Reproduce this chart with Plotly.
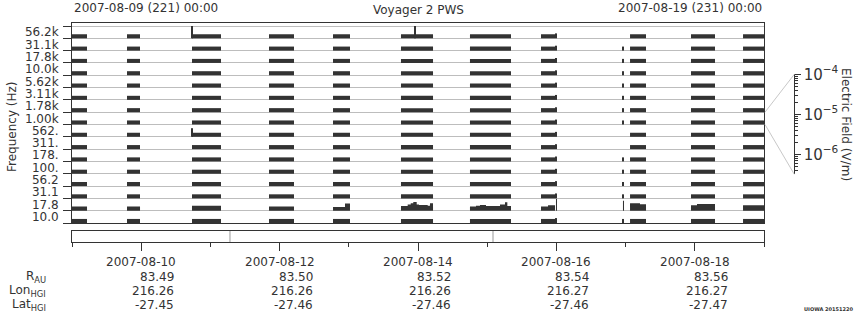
import plotly.graph_objects as go
import pandas as pd

# ---------------- data ----------------
start_date = pd.Timestamp("2007-08-09")
doy0 = 221.0
doy1 = 231.0

channel_labels = ["56.2k", "31.1k", "17.8k", "10.0k", "5.62k", "3.11k", "1.78k", "1.00k",
                  "562.", "311.", "178.", "100.", "56.2", "31.1", "17.8", "10.0"]

# observation intervals (day of year) where spectrum data exist
obs_start = [221.000, 221.795, 222.734, 223.847, 224.772, 225.754, 226.751, 227.777, 229.064, 229.945, 230.697]
obs_end   = [221.217, 221.983, 223.153, 224.208, 225.017, 226.217, 227.344, 227.980, 229.295, 230.292, 231.000]

# typical level (fraction of channel strip) for each channel
channel_level = [0.33, 0.33, 0.33, 0.33, 0.33, 0.33, 0.33, 0.33,
                 0.33, 0.33, 0.33, 0.33, 0.33, 0.33, None, 0.33]

# isolated single samples: (doy start, doy end, level) and channels that have them
sample_a = (227.994, 228.009, 0.40)
sample_a_channels = list(range(16))
sample_b = (228.962, 228.977, 0.33)
sample_b_channels = [1, 2, 3, 4, 5, 6, 7, 10, 11, 12, 13, 15]

# detailed profile of the 17.8 Hz channel: (start, end, level)
ch17_segments = [
    (221.000, 221.217, 0.33), (221.795, 221.983, 0.33), (222.734, 223.153, 0.40),
    (223.847, 224.208, 0.33), (224.772, 224.945, 0.30), (224.945, 225.017, 0.58),
    (225.754, 225.851, 0.38), (225.851, 225.895, 0.51), (225.895, 225.932, 0.60),
    (225.932, 225.981, 0.70), (225.981, 226.014, 0.51), (226.014, 226.140, 0.46),
    (226.140, 226.173, 0.41), (226.173, 226.217, 0.60),
    (226.751, 226.838, 0.33), (226.838, 226.896, 0.41), (226.896, 226.983, 0.46),
    (226.983, 227.185, 0.38), (227.185, 227.257, 0.51), (227.257, 227.291, 0.68),
    (227.291, 227.344, 0.38),
    (227.777, 227.879, 0.33), (227.879, 227.980, 0.45),
    (227.994, 228.009, 0.95), (228.962, 228.977, 0.80),
    (229.064, 229.208, 0.60), (229.208, 229.295, 0.52),
    (229.945, 230.032, 0.45), (230.032, 230.292, 0.54),
    (230.697, 231.000, 0.45),
]
ch17_index = 14

# narrow spikes: (doy start, doy end, channel, level)
spikes = [(222.734, 222.749, 0, 1.0), (225.950, 225.965, 0, 1.0), (222.734, 222.749, 8, 0.70)]

# event markers in the lower strip (doy)
event_doy = [223.283, 227.084]

# ephemeris table
tick_dates = ["2007-08-10", "2007-08-12", "2007-08-14", "2007-08-16", "2007-08-18"]
r_au = ["83.49", "83.50", "83.52", "83.54", "83.56"]
lon_hgi = ["216.26", "216.26", "216.26", "216.27", "216.27"]
lat_hgi = ["-27.45", "-27.46", "-27.46", "-27.46", "-27.47"]

# electric field color-scale axis (log10 V/m)
efield_range = [-6.5, -4.0]

# ---------------- layout helpers ----------------
W, H = 860, 320
def px2x(px):
    return px / W
def px2y(px):
    return 1 - px / H

DARK = "#333333"
GRAY = "#bdbdbd"
FONT = "DejaVu Sans"

main_x = [px2x(72), px2x(764)]
main_y = [px2y(223), px2y(23)]
n_ch = len(channel_labels)
y_top = n_ch + 0.244
strip_y = [px2y(242), px2y(231)]
cb_y = [px2y(174.3), px2y(74.3)]
cb_x = [0.90, px2x(794.3)]

# ---------------- build bars ----------------
xs, ws, bs, hs = [], [], [], []
def add(s, e, ch, lev):
    xs.append((s + e) / 2)
    ws.append(e - s)
    bs.append(n_ch - 1 - ch)
    hs.append(lev)

for ch in range(n_ch):
    if ch == ch17_index:
        continue
    for s, e in zip(obs_start, obs_end):
        add(s, e, ch, channel_level[ch])
    if ch in sample_a_channels:
        add(sample_a[0], sample_a[1], ch, sample_a[2])
    if ch in sample_b_channels:
        add(sample_b[0], sample_b[1], ch, sample_b[2])
for s, e, ch, lev in spikes:
    add(s, e, ch, lev)

# 17.8 Hz channel as stepped filled profile (contiguous runs merged)
base17 = n_ch - 1 - ch17_index
px_, py_ = [], []
run = []
def flush(run):
    if not run:
        return
    px_.append(run[0][0]); py_.append(base17)
    for s, e, lev in run:
        px_.extend([s, e]); py_.extend([base17 + lev, base17 + lev])
    px_.append(run[-1][1]); py_.append(base17)
    px_.append(None); py_.append(None)
for seg in ch17_segments:
    if run and abs(seg[0] - run[-1][1]) > 1e-6:
        flush(run)
        run = []
    run.append(seg)
flush(run)

fig = go.Figure()
fig.add_trace(go.Bar(x=xs, y=hs, base=bs, width=ws, marker=dict(color=DARK, line=dict(width=0)),
                     hoverinfo="skip", showlegend=False, xaxis="x", yaxis="y"))
fig.add_trace(go.Scatter(x=px_, y=py_, mode="lines", fill="toself", fillcolor=DARK,
                         line=dict(width=0, color=DARK), connectgaps=False,
                         hoverinfo="skip", showlegend=False, xaxis="x", yaxis="y"))
fig.add_trace(go.Scatter(x=[doy0], y=[0.5], mode="markers", marker=dict(opacity=0),
                         hoverinfo="skip", showlegend=False, xaxis="x2", yaxis="y2"))
fig.add_trace(go.Scatter(x=[0], y=[1e-5], mode="markers", marker=dict(opacity=0),
                         hoverinfo="skip", showlegend=False, xaxis="x3", yaxis="y3"))

tick_doy = [doy0 + (pd.Timestamp(d) - start_date).days for d in tick_dates]

fig.update_layout(
    template="none",
    width=W, height=H, margin=dict(l=0, r=0, t=0, b=0, pad=0, autoexpand=False),
    paper_bgcolor="white", plot_bgcolor="white",
    font=dict(family=FONT, size=12, color=DARK),
    barmode="overlay", showlegend=False,
    xaxis=dict(domain=main_x, range=[doy0, doy1], anchor="y", showline=True, mirror=True,
               linecolor=DARK, linewidth=1, ticks="", showticklabels=False, showgrid=False,
               zeroline=False, automargin=False),
    yaxis=dict(domain=main_y, range=[0, y_top], anchor="x", tickmode="array",
               tickvals=[n_ch - 1 - j + 0.5 for j in range(n_ch)], ticktext=channel_labels,
               ticks="outside", ticklen=10, tickcolor="rgba(0,0,0,0)",
               showgrid=False, zeroline=False, showline=True, mirror=True,
               linecolor=DARK, linewidth=1, automargin=False,
               tickfont=dict(size=12, color=DARK),
               minor=dict(tickmode="linear", tick0=0, dtick=1, ticks="outside", ticklen=8,
                          tickcolor=DARK, tickwidth=1, showgrid=True, gridcolor=GRAY, gridwidth=1)),
    xaxis2=dict(domain=main_x, range=[doy0, doy1], anchor="y2", showline=True, mirror=True,
                linecolor=DARK, linewidth=1, tickmode="array", tickvals=tick_doy, ticks="outside",
                ticklen=8, tickcolor=DARK, tickwidth=1, showticklabels=False, showgrid=False,
                zeroline=False, automargin=False,
                minor=dict(tickmode="linear", tick0=doy0, dtick=1, ticks="outside", ticklen=4,
                           tickcolor=DARK, tickwidth=1, showgrid=False)),
    yaxis2=dict(domain=strip_y, range=[0, 1], anchor="x2", showline=True, mirror=True,
                linecolor=DARK, linewidth=1, ticks="", showticklabels=False, showgrid=False,
                zeroline=False, automargin=False),
    xaxis3=dict(domain=cb_x, anchor="y3", visible=False, range=[-1, 1], automargin=False),
    yaxis3=dict(domain=cb_y, anchor="x3", side="right", type="log", range=efield_range,
                showline=True, linecolor=DARK, linewidth=1, ticks="outside", ticklen=6,
                tickcolor=DARK, dtick=1, exponentformat="power", showexponent="all",
                showgrid=False, zeroline=False, tickfont=dict(size=12, color=DARK),
                automargin=False,
                minor=dict(ticks="outside", ticklen=3, tickcolor=DARK, showgrid=False)),
)

ann = []
ann.append(dict(text="2007-08-09 (221) 00:00", x=px2x(72), y=px2y(8), xref="paper", yref="paper",
                xanchor="left", yanchor="middle", showarrow=False, font=dict(size=12, color=DARK)))
ann.append(dict(text="Voyager 2 PWS", x=(main_x[0] + main_x[1]) / 2, y=px2y(10), xref="paper",
                yref="paper", xanchor="center", yanchor="middle", showarrow=False,
                font=dict(size=12, color=DARK)))
ann.append(dict(text="2007-08-19 (231) 00:00", x=px2x(764), y=px2y(8), xref="paper", yref="paper",
                xanchor="right", yanchor="middle", showarrow=False, font=dict(size=12, color=DARK)))
ann.append(dict(text="Frequency (Hz)", x=px2x(12), y=px2y(127), xref="paper", yref="paper",
                xanchor="center", yanchor="middle", textangle=-90, showarrow=False,
                font=dict(size=12, color=DARK)))
ann.append(dict(text="Electric Field (V/m)", x=px2x(846), y=px2y(124), xref="paper", yref="paper",
                xanchor="center", yanchor="middle", textangle=90, showarrow=False,
                font=dict(size=12, color=DARK)))
ann.append(dict(text="<b>UIOWA 20151220</b>", x=px2x(828), y=px2y(309), xref="paper", yref="paper",
                xanchor="center", yanchor="middle", showarrow=False, font=dict(size=5, color=DARK)))

row_y = [262, 277, 291, 305]
for i, d in enumerate(tick_dates):
    ann.append(dict(text=d, x=tick_doy[i], y=px2y(row_y[0]), xref="x2", yref="paper",
                    xanchor="center", yanchor="middle", showarrow=False,
                    font=dict(size=12, color=DARK)))
    for r, vals in zip(row_y[1:], [r_au, lon_hgi, lat_hgi]):
        ann.append(dict(text=vals[i], x=tick_doy[i], y=px2y(r), xref="x2", yref="paper",
                        xanchor="right", yanchor="middle", xshift=35, showarrow=False,
                        font=dict(size=12, color=DARK)))
for r, lab in zip(row_y[1:], ["R<sub>AU</sub>", "Lon<sub>HGI</sub>", "Lat<sub>HGI</sub>"]):
    ann.append(dict(text=lab, x=px2x(48), y=px2y(r), xref="paper", yref="paper",
                    xanchor="right", yanchor="middle", showarrow=False,
                    font=dict(size=12, color=DARK)))
fig.update_layout(annotations=ann)

def main_y_to_paper(v):
    return main_y[0] + v / y_top * (main_y[1] - main_y[0])

shapes = []
for ev in event_doy:
    shapes.append(dict(type="line", xref="x2", yref="y2 domain", x0=ev, x1=ev, y0=0, y1=1,
                       line=dict(color="#999999", width=1)))
# connector from 1.00k strip to electric field scale
ref_band = n_ch - 1 - channel_labels.index("1.00k")
shapes.append(dict(type="line", xref="paper", yref="paper", x0=main_x[1] + 1 / W,
                   y0=main_y_to_paper(ref_band + 1), x1=cb_x[1], y1=cb_y[1],
                   line=dict(color="#c8c8c8", width=1)))
shapes.append(dict(type="line", xref="paper", yref="paper", x0=main_x[1] + 1 / W,
                   y0=main_y_to_paper(ref_band), x1=cb_x[1], y1=cb_y[0],
                   line=dict(color="#c8c8c8", width=1)))
fig.update_layout(shapes=shapes)

fig.write_html("out.html")
